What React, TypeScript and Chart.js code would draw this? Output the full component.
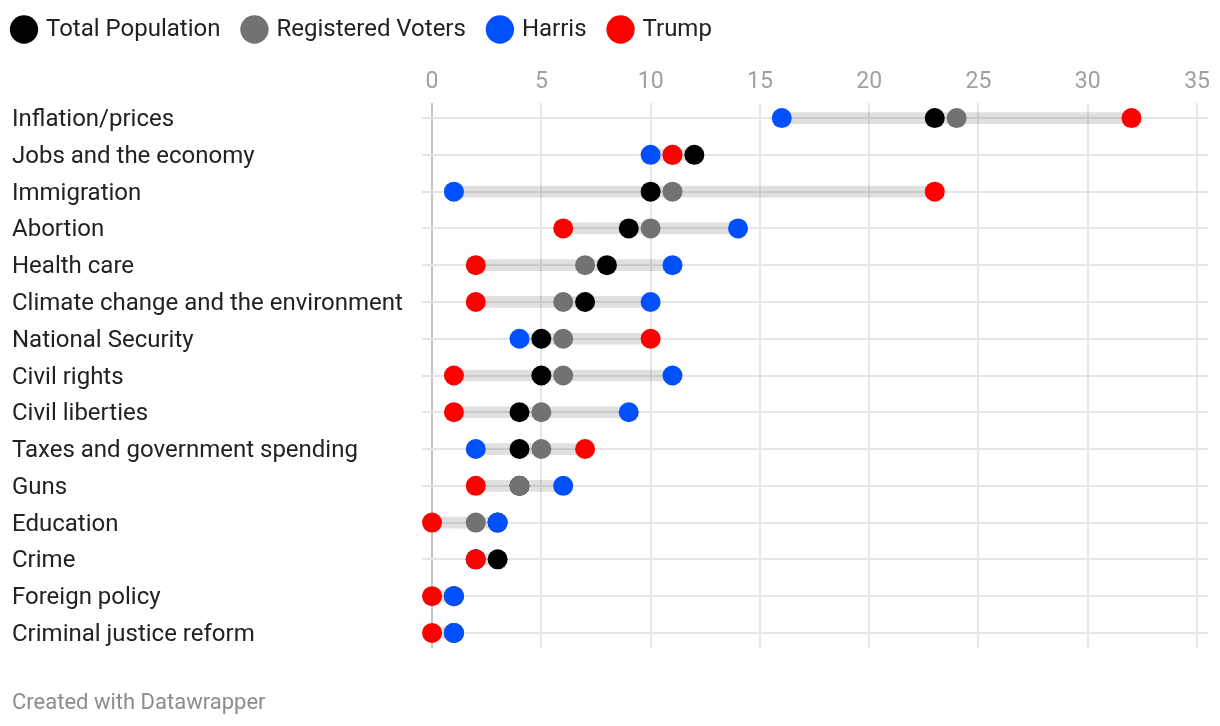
import React, { useEffect, useRef } from "react";
import { Chart, registerables } from "chart.js";

Chart.register(...registerables);

const categories = [
  "Inflation/prices",
  "Jobs and the economy",
  "Immigration",
  "Abortion",
  "Health care",
  "Climate change and the environment",
  "National Security",
  "Civil rights",
  "Civil liberties",
  "Taxes and government spending",
  "Guns",
  "Education",
  "Crime",
  "Foreign policy",
  "Criminal justice reform",
];

const totalPopulation = [23, 12, 10, 9, 8, 7, 5, 5, 4, 4, 4, 3, 3, 1, 1];
const registeredVoters = [24, 11, 11, 10, 7, 6, 6, 6, 5, 5, 4, 2, 2, 1, 1];
const harris = [16, 10, 1, 14, 11, 10, 4, 11, 9, 2, 6, 3, 2, 1, 1];
const trump = [32, 11, 23, 6, 2, 2, 10, 1, 1, 7, 2, 0, 2, 0, 0];

const xTickValues = [0, 5, 10, 15, 20, 25, 30, 35];

const seriesNames = ["Total Population", "Registered Voters", "Harris", "Trump"];
const seriesColors = ["#000000", "#727272", "#0050ff", "#ff0000"];

const W = 1220;
const H = 726;

export default function App() {
  const canvasRef = useRef<HTMLCanvasElement | null>(null);

  useEffect(() => {
    const canvas = canvasRef.current;
    if (!canvas) return;
    Chart.defaults.font.family = "Roboto";

    const series = [totalPopulation, registeredVoters, harris, trump];
    const toPoints = (arr: number[]) => arr.map((v, i) => ({ x: v, y: i }));
    const ranges = categories.map((_, i) => {
      const vals = series.map((s) => s[i]);
      return { x: [Math.min(...vals), Math.max(...vals)], y: i };
    });

    const scatterSets = series.map((arr, k) => ({
      type: "scatter" as const,
      label: seriesNames[k],
      data: toPoints(arr),
      backgroundColor: seriesColors[k],
      borderWidth: 0,
      pointRadius: 10,
      pointHoverRadius: 10,
      pointStyle: "circle",
      order: 4 - k,
    }));

    const legendShift = {
      id: "legendShift",
      afterLayout(chart: any) {
        if (chart.legend) {
          chart.legend.left = -10;
          chart.legend.top = -6.5;
        }
      },
    };

    const chart = new Chart(canvas, {
      type: "scatter",
      data: {
        datasets: [
          ...scatterSets,
          {
            type: "bar",
            label: "range",
            indexAxis: "y",
            data: ranges as any,
            backgroundColor: "rgba(0,0,0,0.12)",
            borderWidth: 0,
            barThickness: 11,
            order: 10,
          } as any,
        ],
      },
      plugins: [legendShift],
      options: {
        responsive: false,
        animation: false,
        devicePixelRatio: 1,
        layout: { padding: { left: 12, right: 12, top: 0, bottom: 0 } },
        plugins: {
          tooltip: { enabled: false },
          legend: {
            position: "top",
            align: "start",
            labels: {
              usePointStyle: true,
              pointStyle: "circle",
              boxWidth: 20,
              boxHeight: 20,
              padding: 24,
              color: "#222222",
              font: { size: 24, family: "Roboto" },
              filter: (item: any) => item.datasetIndex < 4,
              sort: (a: any, b: any) => a.datasetIndex - b.datasetIndex,
            },
          },
          title: {
            display: true,
            text: "Created with Datawrapper",
            position: "bottom",
            align: "start",
            color: "#8c8c8c",
            font: { size: 22, weight: "normal", family: "Roboto" },
            padding: { top: 41.8, bottom: 9.8 },
          },
        },
        scales: {
          x: {
            type: "linear",
            position: "top",
            min: -0.46,
            max: 35.5,
            offset: false,
            afterBuildTicks: (scale: any) => {
              scale.ticks = xTickValues.map((v) => ({ value: v }));
            },
            afterFit: (scale: any) => {
              scale.height = 45;
            },
            border: { display: false },
            grid: {
              drawTicks: false,
              offset: false,
              lineWidth: 2,
              color: (ctx: any) => (ctx.tick && ctx.tick.value === 0 ? "#c6c6c6" : "#e6e6e6"),
            },
            ticks: {
              color: "#a0a0a0",
              font: { size: 23, family: "Roboto" },
              padding: 7,
            },
          },
          y: {
            type: "linear",
            reverse: true,
            min: -0.41,
            max: 14.41,
            offset: false,
            afterBuildTicks: (scale: any) => {
              scale.ticks = categories.map((_, i) => ({ value: i }));
            },
            afterFit: (scale: any) => {
              scale.width = 410;
            },
            border: { display: false },
            grid: { drawTicks: false, offset: false, lineWidth: 2, color: "#e6e6e6" },
            ticks: {
              crossAlign: "far",
              padding: 0,
              labelOffset: 2,
              color: "#222222",
              font: { size: 24, family: "Roboto" },
              callback: (v: any) => categories[v as number] ?? "",
            },
          },
        },
      },
    } as any);
    return () => chart.destroy();
  }, []);

  return (
    <div style={{ position: "fixed", left: 0, top: 0, width: W, height: H, background: "#fff" }}>
      <canvas ref={canvasRef} width={W} height={H} style={{ width: W, height: H }} />
    </div>
  );
}
